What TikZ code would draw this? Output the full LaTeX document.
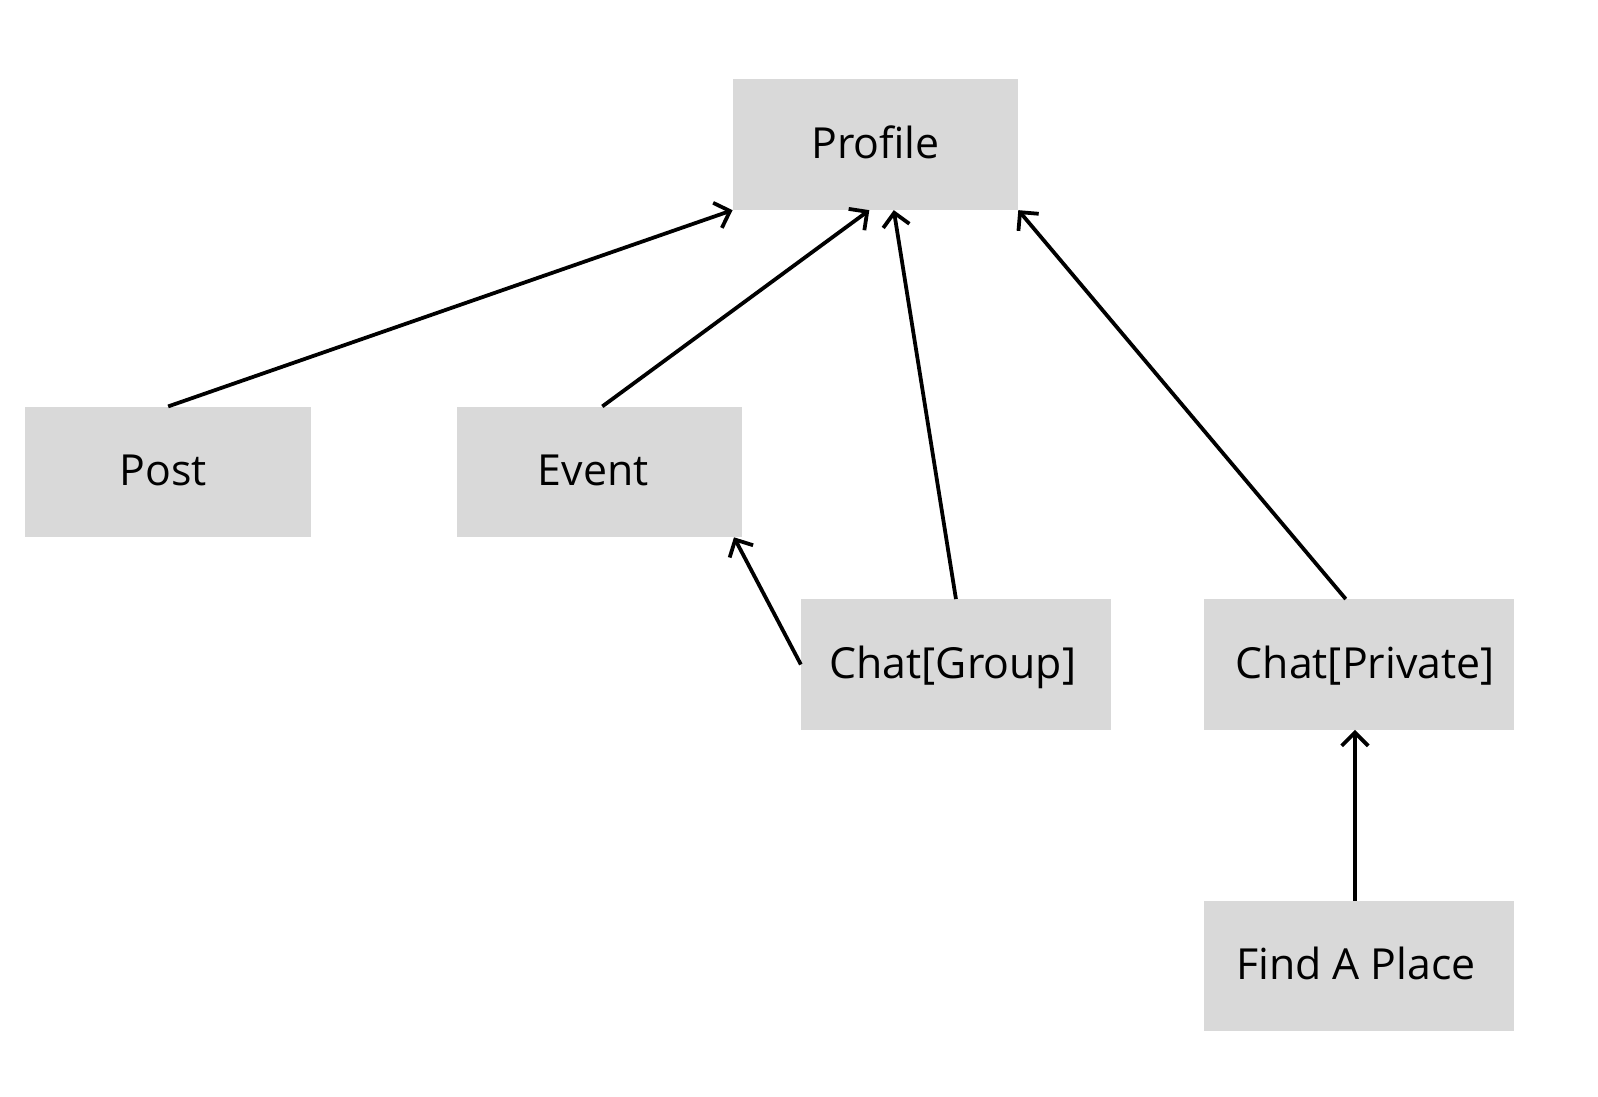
\documentclass[tikz,border=0pt]{standalone}
\usepackage{fontspec}
\setmainfont{Open Sans}
\usetikzlibrary{arrows.meta,calc}
\begin{document}
\begin{tikzpicture}[x=1pt,y=-1pt,
  box/.style={fill=boxgray,draw=none,minimum height=128pt,inner sep=0pt,
    font=\fontsize{42}{50}\selectfont,text height=27pt,text depth=0pt},
  link/.style={line width=3.7pt,-{Straight Barb[length=13pt,width=26pt,line width=3.7pt]}}]
\definecolor{boxgray}{HTML}{D9D9D9}
\useasboundingbox (0,0) rectangle (1568,1075.5);
\node[box,minimum width=280pt] (profile) at (859,142) {Profile};
\node[box,minimum width=280pt] (post) at (165,463) {\hspace*{-10pt}Post};
\node[box,minimum width=280pt] (event) at (588,463) {\hspace*{-12pt}Event};
\node[box,minimum width=304pt] (group) at (938,652) {\hspace*{-6pt}Chat[Group]};
\node[box,minimum width=305pt] (private) at (1333.5,652) {Chat[Private]\hspace*{-12pt}};
\node[box,minimum width=305pt] (find) at (1333.5,948) {\hspace*{-6pt}Find A Place};
\draw[link] (post.north) -- (profile.south west);
\draw[link] ($(event.north)+(3,0)$) -- ($(profile.south)+(-6,0)$);
\draw[link] (group.north) -- ($(profile.south)+(18,0)$);
\draw[link] ($(private.north)+(-13,0)$) -- (profile.south east);
\draw[link] (group.west) -- ($(event.south east)+(-8,0)$);
\draw[link] ($(find.north)+(-4,0)$) -- ($(private.south)+(-4,0)$);
\end{tikzpicture}
\end{document}
